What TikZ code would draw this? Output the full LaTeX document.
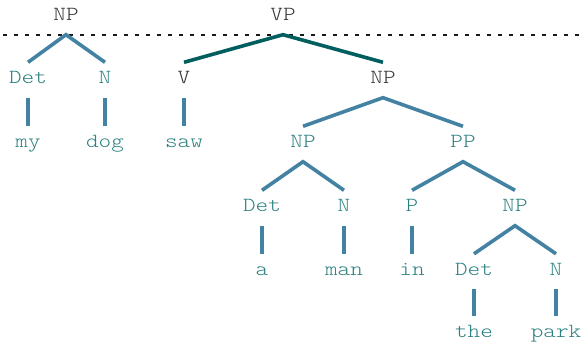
\documentclass[tikz,border=0pt]{standalone}
\usepackage{fontspec}
\newfontfamily\treefont{lmmonolt10-regular.otf}[FakeStretch=1.2]
\definecolor{lbl}{HTML}{2C8080}
\definecolor{dark}{HTML}{333333}
\definecolor{edge}{HTML}{4382A2}
\definecolor{vpedge}{HTML}{005E5E}
\tikzset{
  lab/.style={inner sep=0pt, anchor=base, text height=21pt, text depth=14pt,
    font=\treefont\fontsize{20}{24}\selectfont, text=lbl},
  darklab/.style={lab, text=dark},
  br/.style={draw=edge, line width=3.6pt},
  vpbr/.style={draw=vpedge, line width=3.6pt},
  guide/.style={draw=black!90, line width=2pt, dash pattern=on 4pt off 7pt},
}
\begin{document}
\begin{tikzpicture}[x=1pt,y=-1pt]
\useasboundingbox (0,0) rectangle (585,343);
% dotted guide line
\coordinate (gl) at (3,34.5);
\coordinate (gr) at (585,34.5);
\draw[guide] (gl) -- (gr);
% row 0
\node[darklab] (np0) at (66,20.5) {NP};
\node[darklab] (vp) at (283,20.5) {VP};
% row 1
\node[lab] (det1) at (28,83.5) {Det};
\node[lab] (n1) at (105,83.5) {N};
\node[darklab] (v) at (184,83.5) {V};
\node[darklab] (np1) at (383,83.5) {NP};
% row 2
\node[lab] (my) at (28,147.5) {my};
\node[lab] (dog) at (105,147.5) {dog};
\node[lab] (saw) at (184,147.5) {saw};
\node[lab] (np2) at (303,147.5) {NP};
\node[lab] (pp) at (463,147.5) {PP};
% row 3
\node[lab] (det3) at (262,211.5) {Det};
\node[lab] (n3) at (344,211.5) {N};
\node[lab] (p3) at (412,211.5) {P};
\node[lab] (np3) at (515,211.5) {NP};
% row 4
\node[lab] (a) at (262,275) {a};
\node[lab] (man) at (344,275) {man};
\node[lab] (in) at (412,275) {in};
\node[lab] (det4) at (474,275) {Det};
\node[lab] (n4) at (556,275) {N};
% row 5
\node[lab] (the) at (474,337) {the};
\node[lab] (park) at (556,337) {park};
% edges
\draw[br] (det1.north) -- (np0.south) -- (n1.north);
\draw[vpbr] (v.north) -- (vp.south) -- (np1.north);
\draw[br] (det1.south) -- (my.north);
\draw[br] (n1.south) -- (dog.north);
\draw[br] (v.south) -- (saw.north);
\draw[br] (np2.north) -- (np1.south) -- (pp.north);
\draw[br] (det3.north) -- (np2.south) -- (n3.north);
\draw[br] (p3.north) -- (pp.south) -- (np3.north);
\draw[br] (det3.south) -- (a.north);
\draw[br] (n3.south) -- (man.north);
\draw[br] (p3.south) -- (in.north);
\draw[br] (det4.north) -- (np3.south) -- (n4.north);
\draw[br] (det4.south) -- (the.north);
\draw[br] (n4.south) -- (park.north);
\end{tikzpicture}
\end{document}
